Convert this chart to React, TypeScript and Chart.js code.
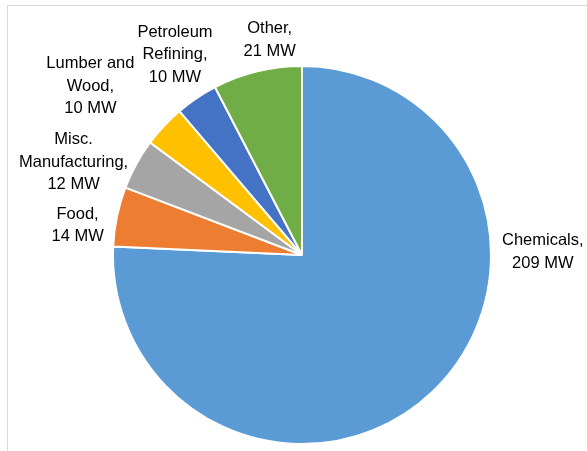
import React, { useEffect, useRef } from "react";
import { Chart, registerables } from "chart.js";

Chart.register(...registerables);

const categories = ["Chemicals", "Food", "Misc. Manufacturing", "Lumber and Wood", "Petroleum Refining", "Other"];
const valuesMW = [209, 14, 12, 10, 10, 21];
const sliceColors = ["#5B9BD5", "#ED7D31", "#A5A5A5", "#FFC000", "#4472C4", "#70AD47"];
const labelNameLines = [["Chemicals,"], ["Food,"], ["Misc.", "Manufacturing,"], ["Lumber and", "Wood,"], ["Petroleum", "Refining,"], ["Other,"]];
const unit = "MW";

const FONT = '16.5px "Liberation Sans", Arial, sans-serif';
const LINE_H = 22.5;

const framePlugin = {
  id: "frame",
  beforeDraw(chart: any) {
    const ctx = chart.ctx;
    ctx.save();
    ctx.strokeStyle = "#d9d9d9";
    ctx.lineWidth = 1;
    ctx.strokeRect(7.5, 5.5, chart.width + 20, chart.height + 20);
    ctx.restore();
  },
};

const outsideLabels = {
  id: "outsideLabels",
  afterDraw(chart: any, _args: any, opts: any) {
    const ctx = chart.ctx;
    const meta = chart.getDatasetMeta(0);
    const gap = opts.gap ?? 10;
    const overrides = opts.angleOverrides || {};
    const nudges = opts.nudges || {};
    ctx.save();
    ctx.font = FONT;
    ctx.fillStyle = "#000";
    ctx.textAlign = "center";
    ctx.textBaseline = "middle";
    meta.data.forEach((arc: any, i: number) => {
      const { x, y, startAngle, endAngle, outerRadius } = arc.getProps(
        ["x", "y", "startAngle", "endAngle", "outerRadius"],
        true
      );
      const lines = [...labelNameLines[i], `${valuesMW[i]} ${unit}`];
      const hw = Math.max(...lines.map((l) => ctx.measureText(l).width)) / 2;
      const hh = (lines.length * LINE_H) / 2;
      const a = overrides[i] !== undefined ? (overrides[i] * Math.PI) / 180 : (startAngle + endAngle) / 2;
      const c = Math.cos(a);
      const s = Math.sin(a);
      const ax = x + (outerRadius + gap) * c;
      const ay = y + (outerRadius + gap) * s;
      const n = nudges[i] || [0, 0];
      const cx = ax + hw * c + n[0];
      const cy = ay + hh * s + n[1];
      lines.forEach((l, k) => {
        ctx.fillText(l, cx, cy - hh + LINE_H * (k + 0.5));
      });
    });
    ctx.restore();
  },
};

export default function App() {
  const ref = useRef<HTMLCanvasElement | null>(null);
  useEffect(() => {
    document.body.style.margin = "0";
    if (!ref.current) return;
    const chart = new Chart(ref.current, {
      type: "pie",
      data: {
        labels: categories,
        datasets: [
          {
            data: valuesMW,
            backgroundColor: sliceColors,
            borderColor: "#ffffff",
            borderWidth: 2,
          },
        ],
      },
      options: {
        responsive: false,
        animation: false,
        devicePixelRatio: 1,
        layout: { padding: { left: 112, right: 95, top: 65, bottom: 6 } },
        plugins: {
          legend: { display: false },
          tooltip: { enabled: false },
          outsideLabels: {
            gap: 10,
            angleOverrides: { 0: -1 },
            nudges: { 0: [1, 1], 1: [-4, 15.5], 2: [-6, 19], 3: [-34, -10], 4: [5, -7], 5: [21, 0] },
          },
        } as any,
      },
      plugins: [framePlugin, outsideLabels],
    });
    return () => chart.destroy();
  }, []);
  return (
    <div style={{ width: 587, height: 451, background: "#fff" }}>
      <canvas ref={ref} width={587} height={451} style={{ display: "block" }} />
    </div>
  );
}
